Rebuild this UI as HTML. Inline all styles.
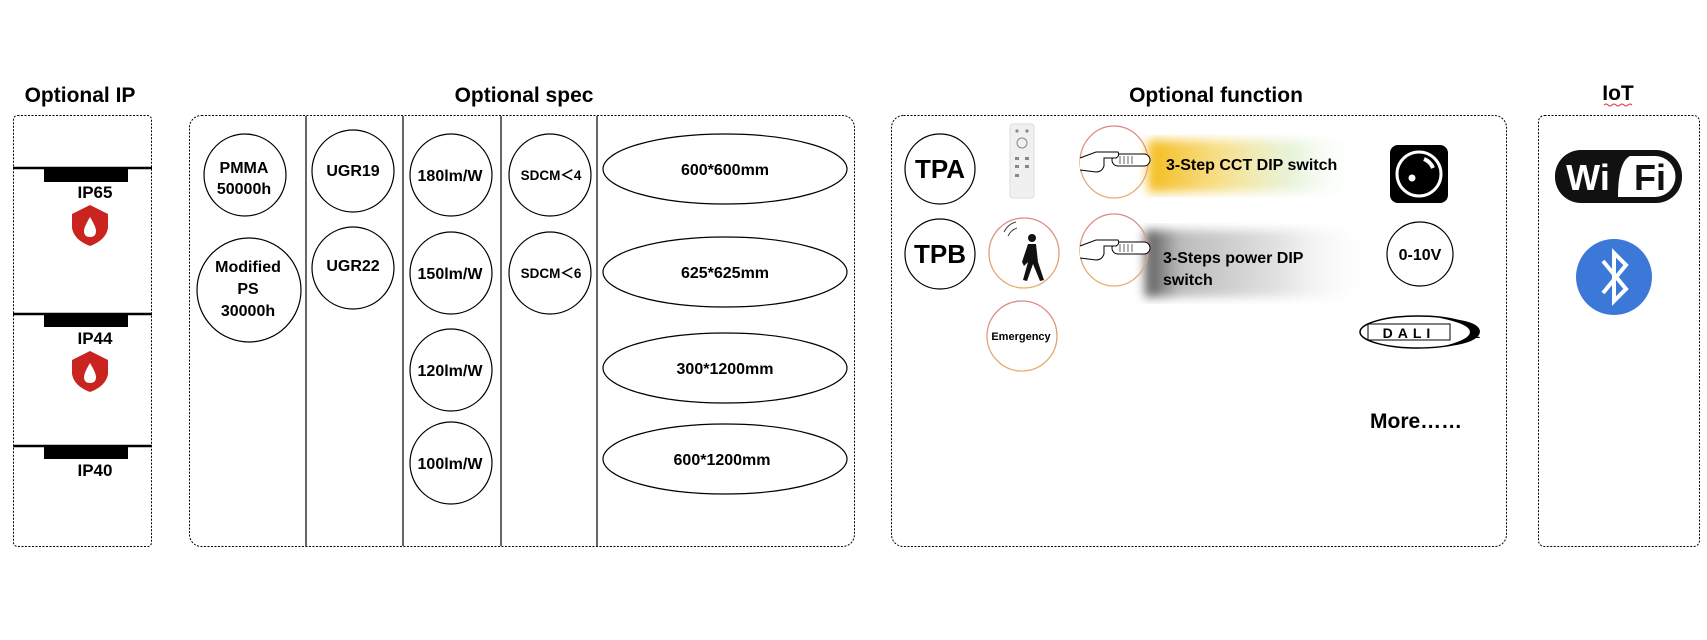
<!DOCTYPE html>
<html><head><meta charset="utf-8"><style>
html,body{margin:0;padding:0;background:#fff;}
svg{display:block;font-family:"Liberation Sans",Arial,sans-serif;font-weight:bold;}
</style></head><body>
<svg width="1707" height="640" viewBox="0 0 1707 640" xmlns="http://www.w3.org/2000/svg">
<defs>
<linearGradient id="yg" x1="0" x2="1" y1="0" y2="0">
<stop offset="0" stop-color="#f4bb1a"/><stop offset="0.35" stop-color="#f6d870" stop-opacity="0.8"/><stop offset="0.7" stop-color="#d8eec8" stop-opacity="0.6"/><stop offset="1" stop-color="#fff" stop-opacity="0"/></linearGradient>
<linearGradient id="gg" x1="0" x2="1" y1="0" y2="0">
<stop offset="0" stop-color="#555"/><stop offset="0.15" stop-color="#bbb"/><stop offset="0.6" stop-color="#e4e4e4"/><stop offset="1" stop-color="#fff" stop-opacity="0"/></linearGradient>
<filter id="bl"><feGaussianBlur stdDeviation="5"/></filter>
<linearGradient id="rim" x1="0" y1="0" x2="0" y2="1"><stop offset="0" stop-color="#d98a8a"/><stop offset="1" stop-color="#e8b070"/></linearGradient>
</defs>
<g font-size="21" text-anchor="middle" fill="#000">
<text x="80" y="102">Optional IP</text>
<text x="524" y="102">Optional spec</text>
<text x="1216" y="102">Optional function</text>
<text x="1618" y="100">IoT</text>
</g>
<path d="M1604 105 q2 -2 4 0 t4 0 t4 0 t4 0 t4 0 t4 0 t4 0" stroke="#d33" fill="none" stroke-width="1"/>
<g fill="none" stroke="#000" stroke-width="1" stroke-dasharray="2,1.5">
<rect x="13.5" y="115.5" width="138" height="431" rx="4"/>
<rect x="189.5" y="115.5" width="665" height="431" rx="12"/>
<rect x="891.5" y="115.5" width="615" height="431" rx="12"/>
<rect x="1538.5" y="115.5" width="161" height="431" rx="6"/>
</g>
<g stroke="#000" stroke-width="1.2">
<line x1="306" y1="116" x2="306" y2="546"/><line x1="403" y1="116" x2="403" y2="546"/>
<line x1="501" y1="116" x2="501" y2="546"/><line x1="597" y1="116" x2="597" y2="546"/>
</g>
<g stroke="#000" stroke-width="2.5"><line x1="13" y1="168" x2="152" y2="168"/><line x1="13" y1="314" x2="152" y2="314"/><line x1="13" y1="446" x2="152" y2="446"/></g>
<rect x="44" y="168" width="84" height="14"/><rect x="44" y="314" width="84" height="13"/><rect x="44" y="446" width="84" height="13"/>
<g font-size="17" text-anchor="middle"><text x="95" y="198">IP65</text><text x="95" y="344">IP44</text><text x="95" y="476">IP40</text></g>
<g id="sh"><path d="M90 205 L108 214 L108 228 Q106 240 90 246 Q74 240 72 228 L72 214 Z" fill="#c9241f"/>
<path d="M90 217 Q84 227 84 231 Q84 237 90 237 Q96 237 96 231 Q96 227 90 217Z" fill="#fff"/></g>
<use href="#sh" transform="translate(0,146)"/>
<g fill="#fff" stroke="#000" stroke-width="1.2">
<ellipse cx="245" cy="175" rx="41" ry="41"/><ellipse cx="249" cy="290" rx="52" ry="52"/>
<ellipse cx="353" cy="171" rx="41" ry="41"/><ellipse cx="353" cy="268" rx="41" ry="41"/>
<ellipse cx="451" cy="175" rx="41" ry="41"/><ellipse cx="451" cy="273" rx="41" ry="41"/>
<ellipse cx="451" cy="370" rx="41" ry="41"/><ellipse cx="451" cy="463" rx="41" ry="41"/>
<ellipse cx="550" cy="175" rx="41" ry="41"/><ellipse cx="550" cy="273" rx="41" ry="41"/>
<ellipse cx="725" cy="169" rx="122" ry="35"/><ellipse cx="725" cy="272" rx="122" ry="35"/>
<ellipse cx="725" cy="368" rx="122" ry="35"/><ellipse cx="725" cy="459" rx="122" ry="35"/>
</g>
<g font-size="16" text-anchor="middle">
<text x="244" y="173">PMMA</text><text x="244" y="194">50000h</text>
<text x="248" y="272">Modified</text><text x="248" y="294">PS</text><text x="248" y="316">30000h</text>
<text x="353" y="176">UGR19</text><text x="353" y="271">UGR22</text>
<text x="450" y="181">180lm/W</text><text x="450" y="279">150lm/W</text><text x="450" y="376">120lm/W</text><text x="450" y="469">100lm/W</text>
<text x="725" y="175">600*600mm</text><text x="725" y="278">625*625mm</text><text x="725" y="374">300*1200mm</text><text x="722" y="465">600*1200mm</text>
</g>
<g font-size="13.5" text-anchor="middle"><text x="551" y="180">SDCM＜4</text><text x="551" y="278">SDCM＜6</text></g>
<g fill="#fff" stroke="#000" stroke-width="1.2"><circle cx="940" cy="169" r="35"/><circle cx="940" cy="254" r="35"/><ellipse cx="1420" cy="254" rx="33" ry="32"/></g>
<g font-size="26" text-anchor="middle"><text x="940" y="178">TPA</text><text x="940" y="263">TPB</text></g>
<text x="1420" y="260" font-size="16" text-anchor="middle">0-10V</text>
<rect x="1010" y="124" width="24" height="74" rx="3" fill="#f0f0f0" stroke="#ddd"/>
<g fill="#888"><circle cx="1017" cy="131" r="1.6"/><circle cx="1027" cy="131" r="1.6"/><circle cx="1022" cy="143" r="5" fill="none" stroke="#888"/><rect x="1015" y="157" width="4" height="3"/><rect x="1025" y="157" width="4" height="3"/><rect x="1015" y="165" width="4" height="3"/><rect x="1025" y="165" width="4" height="3"/><rect x="1015" y="174" width="4" height="3"/></g>
<rect x="1148" y="140" width="212" height="52" fill="url(#yg)" filter="url(#bl)"/>
<rect x="1145" y="230" width="231" height="67" fill="url(#gg)" filter="url(#bl)"/>
<g fill="none" stroke="url(#rim)" stroke-width="1.3"><ellipse cx="1114" cy="162" rx="34" ry="36"/><ellipse cx="1114" cy="250" rx="34" ry="36"/><ellipse cx="1024" cy="253" rx="35" ry="35"/><ellipse cx="1022" cy="336" rx="35" ry="35"/></g>
<g id="hand" fill="#fff" stroke="#000" stroke-width="1"><rect x="1112" y="154" width="38" height="12" rx="6"/><path d="M1080 158 L1096 152 L1118 152 Q1120 156 1116 158 L1104 158 L1104 166 Q1102 172 1096 172 L1080 170"/>
<g stroke="#666"><line x1="1120" y1="156" x2="1120" y2="164"/><line x1="1124" y1="156" x2="1124" y2="164"/><line x1="1128" y1="156" x2="1128" y2="164"/><line x1="1132" y1="156" x2="1132" y2="164"/></g></g>
<use href="#hand" transform="translate(0,88)"/>
<g font-size="16"><text x="1166" y="170">3-Step CCT DIP switch</text><text x="1163" y="263">3-Steps power DIP</text><text x="1163" y="285">switch</text></g>
<rect x="1390" y="145" width="58" height="58" rx="8" fill="#000"/>
<circle cx="1419" cy="174" r="22" fill="none" stroke="#fff" stroke-width="3"/>
<circle cx="1412" cy="178" r="3.5" fill="#fff"/>
<path d="M1424 159 A16 16 0 0 1 1433 168" stroke="#fff" stroke-width="4" fill="none"/>
<g fill="#111"><circle cx="1032" cy="238" r="4"/><path d="M1028 244 L1036 244 L1038 262 L1044 280 L1040 281 L1033 264 L1027 281 L1023 280 L1028 262 L1024 266 L1022 262 Z"/></g>
<path d="M1004 232 q4 -8 12 -10 M1008 236 q3 -6 9 -8" stroke="#444" fill="none"/>
<text x="1021" y="340" font-size="11" text-anchor="middle">Emergency</text>
<ellipse cx="1418" cy="332" rx="58" ry="16" fill="#fff" stroke="#000" stroke-width="1.5"/>
<path d="M1440 318 Q1480 320 1480 332 Q1478 344 1440 347 Q1470 340 1470 332 Q1470 324 1440 318Z" fill="#000"/>
<rect x="1368" y="324" width="82" height="16" fill="#fff" stroke="#000"/>
<text x="1409" y="338" font-size="14" text-anchor="middle" letter-spacing="5">DALI</text>
<text x="1477" y="338" font-size="11" text-anchor="middle">2</text>
<text x="1370" y="428" font-size="21">More……</text>
<rect x="1555" y="150" width="127" height="53" rx="26" fill="#111"/>
<path d="M1630 156 L1655 156 A20 20 0 0 1 1655 197 L1618 197 Q1618 162 1630 156Z" fill="#fff"/>
<text x="1588" y="190" font-size="36" fill="#fff" text-anchor="middle">Wi</text>
<text x="1650" y="190" font-size="36" fill="#111" text-anchor="middle">Fi</text>
<circle cx="1614" cy="277" r="38" fill="#3b78d8"/>
<path d="M1603 261 L1626 289 L1614 301 L1614 253 L1626 265 L1603 293" fill="none" stroke="#fff" stroke-width="4"/>
</svg>
</body></html>
